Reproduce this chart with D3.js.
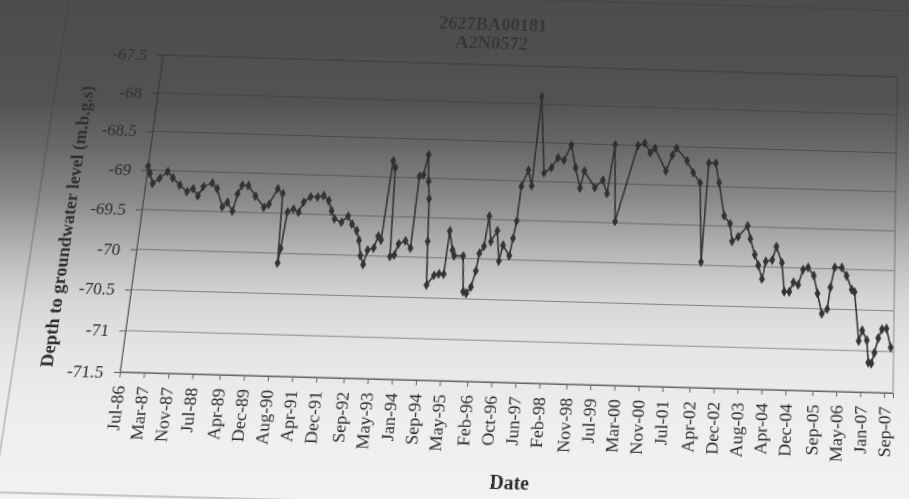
<!DOCTYPE html>
<html>
<head>
<meta charset="utf-8">
<script src="https://cdn.jsdelivr.net/npm/d3@7"></script>
<style>
  html, body { margin: 0; padding: 0; background: #fff; overflow: hidden; }
  #page { position: absolute; left: 0; top: 0; width: 909px; height: 499px; overflow: hidden; background: #fff; }
  #chart { position: absolute; left: 0; top: 0; transform-origin: 0 0; overflow: visible; }
  #light { position: absolute; left: 0; top: 0; pointer-events: none; }
  text { font-family: "Liberation Serif", "Times New Roman", serif; }
</style>
</head>
<body>
<div id="page">
  <svg id="chart" width="960" height="540"></svg>
  <svg id="light" width="909" height="499"></svg>
</div>
<script>
// ---- chart text ----
const titleLines = ["2627BA00181", "A2N0572"];
const yTitle = "Depth to groundwater level (m.b.g.s)";
const xTitle = "Date";

// ---- axes ----
const xTickLabels = ["Jul-86","Mar-87","Nov-87","Jul-88","Apr-89","Dec-89","Aug-90","Apr-91",
  "Dec-91","Sep-92","May-93","Jan-94","Sep-94","May-95","Feb-96","Oct-96","Jun-97","Feb-98",
  "Nov-98","Jul-99","Mar-00","Nov-00","Jul-01","Apr-02","Dec-02","Aug-03","Apr-04","Dec-04",
  "Sep-05","May-06","Jan-07","Sep-07"];
const xDomain = ["1986-07-01", "2007-12-01"];
const yTicks = [-71.5, -71, -70.5, -70, -69.5, -69, -68.5, -68, -67.5];

// ---- observations: date and depth to groundwater (m) ----
const dates = ["1986-07-03","1986-08-01","1986-09-13","1986-11-16","1987-01-28","1987-04-01","1987-06-22","1987-09-13","1987-11-10","1988-01-10",
"1988-02-22","1988-05-19","1988-07-16","1988-10-01","1988-11-16","1989-01-19","1989-02-19","1989-03-28","1989-06-01","1989-08-25",
"1989-12-04","1990-01-22","1990-04-04","1990-06-01","1990-06-28","1990-07-13","1990-08-10","1990-10-07","1990-12-04","1991-01-13",
"1991-03-19","1991-06-01","1991-08-01","1991-09-28","1991-11-07","1991-12-16","1992-03-01","1992-05-01","1992-06-19","1992-08-13",
"1992-09-16","1992-10-16","1992-11-22","1992-12-22","1993-02-22","1993-03-28","1993-05-01","1993-06-16","1993-07-16","1993-08-16",
"1993-09-28","1993-11-01","1994-01-07","1994-03-07","1994-04-01","1994-05-13","1994-06-16","1994-07-10","1994-08-01","1994-08-25",
"1994-09-22","1994-11-28","1995-01-16","1995-03-07","1995-04-01","1995-05-16","1995-06-07","1995-09-07","1995-10-07","1995-11-10",
"1995-12-22","1996-01-28","1996-02-19","1996-04-01","1996-05-01","1996-06-07","1996-08-04","1996-09-13","1996-10-13","1996-12-25",
"1997-01-19","1997-02-13","1997-03-07","1997-05-07","1997-06-22","1997-08-01","1997-10-19","1998-01-01","1998-03-04","1998-05-07",
"1998-07-13","1998-09-10","1998-11-10","1998-12-13","1999-04-13","1999-07-01","1999-08-22","1999-10-16","1999-12-01","2000-06-13",
"2000-08-22","2000-10-25","2000-12-10","2001-04-16","2001-06-16","2001-07-25","2001-11-19","2002-01-28","2002-04-16","2002-06-01",
"2002-07-07","2002-09-19","2002-11-01","2003-01-07","2003-03-13","2003-04-10","2003-06-10","2003-09-13","2003-10-16","2003-12-07",
"2004-01-16","2004-02-28","2004-04-01","2004-06-07","2004-07-16","2004-09-16","2004-10-19","2004-12-10","2005-01-19","2005-03-10",
"2005-04-25","2005-06-16","2005-08-16","2005-09-28","2005-11-16","2006-01-10","2006-02-07","2006-03-19","2006-06-01","2006-07-22",
"2006-09-16","2006-10-16","2006-12-07","2007-01-10","2007-02-28","2007-03-19","2007-04-19","2007-05-19","2007-06-25","2007-08-01",
"2007-09-16","2007-11-01"];
const depths = [-68.95,-69.04,-69.17,-69.10,-69.01,-69.09,-69.18,-69.26,-69.22,-69.31,
-69.19,-69.14,-69.21,-69.44,-69.38,-69.49,-69.27,-69.16,-69.16,-69.29,
-69.43,-69.39,-69.19,-69.25,-70.12,-69.94,-69.48,-69.44,-69.48,-69.35,
-69.28,-69.28,-69.26,-69.32,-69.45,-69.55,-69.59,-69.51,-69.61,-69.69,
-69.81,-70.00,-70.11,-69.93,-69.90,-69.75,-69.80,-68.79,-68.88,-70.00,
-69.98,-69.84,-69.80,-69.89,-68.98,-68.96,-68.70,-69.04,-69.26,-69.80,
-70.34,-70.22,-70.20,-70.20,-69.66,-69.90,-69.97,-69.97,-70.41,-70.43,
-70.35,-70.15,-69.93,-69.84,-69.46,-69.78,-69.64,-70.02,-69.82,-69.95,
-69.73,-69.51,-69.07,-68.86,-69.06,-67.90,-68.89,-68.82,-68.69,-68.72,
-68.52,-68.81,-69.07,-68.85,-69.06,-68.96,-69.13,-68.50,-69.48,-68.50,
-68.47,-68.59,-68.53,-68.82,-68.61,-68.52,-68.68,-68.83,-68.96,-69.96,
-68.70,-68.70,-68.95,-69.37,-69.47,-69.69,-69.63,-69.49,-69.65,-69.85,
-69.98,-70.15,-69.93,-69.91,-69.74,-69.94,-70.30,-70.30,-70.18,-70.21,
-70.02,-69.99,-70.09,-70.31,-70.56,-70.50,-70.23,-69.98,-69.98,-70.08,
-70.25,-70.28,-70.88,-70.75,-70.87,-71.14,-71.15,-71.02,-70.84,-70.73,
-70.72,-70.95];

// ---- layout of the flat chart ----
const plot = { left: 140, top: 65, right: 895, bottom: 383 };
// where the plot corners land on the tilted page (TL, TR, BR, BL)
const pageCorners = [[163, 55], [897, 77], [893, 393], [120, 372]];

const parseISO = d3.timeParse("%Y-%m-%d");
const parseTick = d3.timeParse("%b-%y");
const data = dates.map((d, i) => ({ date: parseISO(d), depth: depths[i] }));

const x = d3.scaleTime()
  .domain(xDomain.map(parseISO))
  .range([plot.left, plot.right]);
const y = d3.scaleLinear()
  .domain([d3.min(yTicks), d3.max(yTicks)])
  .range([plot.bottom, plot.top]);

const svg = d3.select("#chart");

// chart area border
svg.append("rect")
  .attr("x", 36).attr("y", -6).attr("width", 960).attr("height", 504)
  .attr("fill", "none").attr("stroke", "#9a9a9a").attr("stroke-width", 1);

// horizontal gridlines
svg.append("g").selectAll("line").data(yTicks).join("line")
  .attr("x1", plot.left).attr("x2", plot.right)
  .attr("y1", d => y(d)).attr("y2", d => y(d))
  .attr("stroke", "#8e8e8e").attr("stroke-width", 1);

// plot area frame
svg.append("rect")
  .attr("x", plot.left).attr("y", plot.top)
  .attr("width", plot.right - plot.left).attr("height", plot.bottom - plot.top)
  .attr("fill", "none").attr("stroke", "#8e8e8e").attr("stroke-width", 1);

// y axis
const yAxis = svg.append("g")
  .attr("transform", `translate(${plot.left},0)`)
  .call(d3.axisLeft(y).tickValues(yTicks).tickFormat(d => String(d)).tickSize(6).tickPadding(10));
yAxis.selectAll("path, line").attr("stroke", "#5a5a5a");
yAxis.selectAll("text").attr("font-size", 17).attr("fill", "#111")
  .style("font-family", "'Liberation Serif', 'Times New Roman', serif");

// x axis
const xAxis = svg.append("g")
  .attr("transform", `translate(0,${plot.bottom})`)
  .call(d3.axisBottom(x).tickValues(xTickLabels.map(parseTick))
    .tickFormat(d3.timeFormat("%b-%y")).tickSize(5));
xAxis.selectAll("path, line").attr("stroke", "#5a5a5a");
xAxis.selectAll("text")
  .attr("transform", "rotate(-90)")
  .attr("x", -13).attr("y", 0).attr("dy", "0.35em")
  .attr("text-anchor", "end")
  .attr("font-size", 17).attr("fill", "#111")
  .style("font-family", "'Liberation Serif', 'Times New Roman', serif");

// series line and markers
svg.append("path")
  .datum(data)
  .attr("fill", "none").attr("stroke", "#1e1e1e").attr("stroke-width", 1.6)
  .attr("stroke-linejoin", "round")
  .attr("d", d3.line().x(d => x(d.date)).y(d => y(d.depth)));
svg.append("g").selectAll("path").data(data).join("path")
  .attr("transform", d => `translate(${x(d.date)},${y(d.depth)})`)
  .attr("d", d3.symbol().type(d3.symbolDiamond).size(30))
  .attr("fill", "#1e1e1e");

// titles
svg.append("g").selectAll("text").data(titleLines).join("text")
  .attr("x", 475).attr("y", (d, i) => 28 + i * 20)
  .attr("text-anchor", "middle").attr("font-weight", "bold").attr("font-size", 19)
  .attr("fill", "#4a4a4a").text(d => d);
svg.append("text")
  .attr("transform", "translate(74,240) rotate(-90)")
  .attr("text-anchor", "middle").attr("font-weight", "bold").attr("font-size", 18)
  .attr("fill", "#111").text(yTitle);
svg.append("text")
  .attr("x", 526).attr("y", 483)
  .attr("text-anchor", "middle").attr("font-weight", "bold").attr("font-size", 19)
  .attr("fill", "#111").text(xTitle);

// ---- perspective of the photographed page: map plot corners onto the page ----
function homography(src, dst) {
  const A = [], b = [];
  for (let i = 0; i < 4; i++) {
    const [sx, sy] = src[i], [dx, dy] = dst[i];
    A.push([sx, sy, 1, 0, 0, 0, -sx * dx, -sy * dx]); b.push(dx);
    A.push([0, 0, 0, sx, sy, 1, -sx * dy, -sy * dy]); b.push(dy);
  }
  const n = 8;
  for (let c = 0; c < n; c++) {
    let p = c;
    for (let r = c + 1; r < n; r++) if (Math.abs(A[r][c]) > Math.abs(A[p][c])) p = r;
    [A[c], A[p]] = [A[p], A[c]]; [b[c], b[p]] = [b[p], b[c]];
    for (let r = 0; r < n; r++) {
      if (r === c) continue;
      const f = A[r][c] / A[c][c];
      for (let k = c; k < n; k++) A[r][k] -= f * A[c][k];
      b[r] -= f * b[c];
    }
  }
  return b.map((v, i) => v / A[i][i]);
}
const srcCorners = [[plot.left, plot.top], [plot.right, plot.top], [plot.right, plot.bottom], [plot.left, plot.bottom]];
const h = homography(srcCorners, pageCorners);
document.getElementById("chart").style.transform =
  `matrix3d(${h[0]},${h[3]},0,${h[6]},${h[1]},${h[4]},0,${h[7]},0,0,1,0,${h[2]},${h[5]},0,1)`;

// ---- uneven lighting of the page ----
const light = d3.select("#light");
const grad = light.append("defs").append("linearGradient")
  .attr("id", "lit").attr("x1", 0).attr("y1", 0).attr("x2", 0).attr("y2", 1);
const stops = [
  [0.00, "#343434", 0.88], [0.20, "#363636", 0.86], [0.30, "#363636", 0.74],
  [0.40, "#414141", 0.62], [0.50, "#515151", 0.43], [0.60, "#6b6b6b", 0.28],
  [0.70, "#888888", 0.22], [0.84, "#a3a3a3", 0.184], [1.00, "#b0b0b0", 0.17]
];
grad.selectAll("stop").data(stops).join("stop")
  .attr("offset", d => d[0]).attr("stop-color", d => d[1]).attr("stop-opacity", d => d[2]);
light.append("rect").attr("width", 909).attr("height", 499).attr("fill", "url(#lit)");
</script>
</body>
</html>
